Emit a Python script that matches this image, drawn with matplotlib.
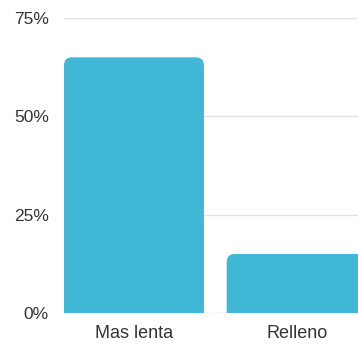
import matplotlib.pyplot as plt
from matplotlib.patches import FancyBboxPatch

# share of responses per category (%)
categories = ['Mas lenta', 'Relleno']
values = [65, 15]
y_ticks = [0, 25, 50, 75]
y_tick_labels = ['0%', '25%', '50%', '75%']

BAR_COLOR = '#40b7d4'
GRID_COLOR = '#e3e3e3'
TEXT_COLOR = '#333333'

W, H = 358, 344
fig = plt.figure(figsize=(W / 100, H / 100), dpi=100)
ax = fig.add_axes([64 / W, 31 / H, 1 - 64 / W, (313 - 18) / H])

ax.set_xlim(-0.43, 1.377)
ax.set_ylim(0, 75)

# rounded bars; the lower corners sit below zero and get clipped away
bar_w = 0.86
px_x = (1.377 + 0.43) / (W - 64)     # data units per pixel, x
px_y = 75 / (313 - 18)               # data units per pixel, y
radius = 8
for i, v in enumerate(values):
    patch = FancyBboxPatch((i - bar_w / 2, -10), bar_w, v + 10,
                           boxstyle=f'round,pad=0,rounding_size={radius * px_x}',
                           mutation_aspect=px_y / px_x,
                           facecolor=BAR_COLOR, edgecolor='none', zorder=2)
    ax.add_patch(patch)

ax.set_yticks(y_ticks)
ax.set_yticklabels(y_tick_labels)
ax.set_xticks(range(len(categories)))
ax.set_xticklabels(categories)
ax.grid(axis='y', color=GRID_COLOR, linewidth=1, zorder=0)
ax.set_axisbelow(True)

ax.tick_params(axis='y', length=0, pad=11, labelsize=12.5, labelcolor=TEXT_COLOR)
ax.tick_params(axis='x', length=0, pad=9, labelsize=13, labelcolor=TEXT_COLOR)
for s in ax.spines.values():
    s.set_visible(False)
for lbl in ax.get_xticklabels() + ax.get_yticklabels():
    lbl.set_fontfamily('Liberation Sans')

fig.savefig('out.png', dpi=100)
